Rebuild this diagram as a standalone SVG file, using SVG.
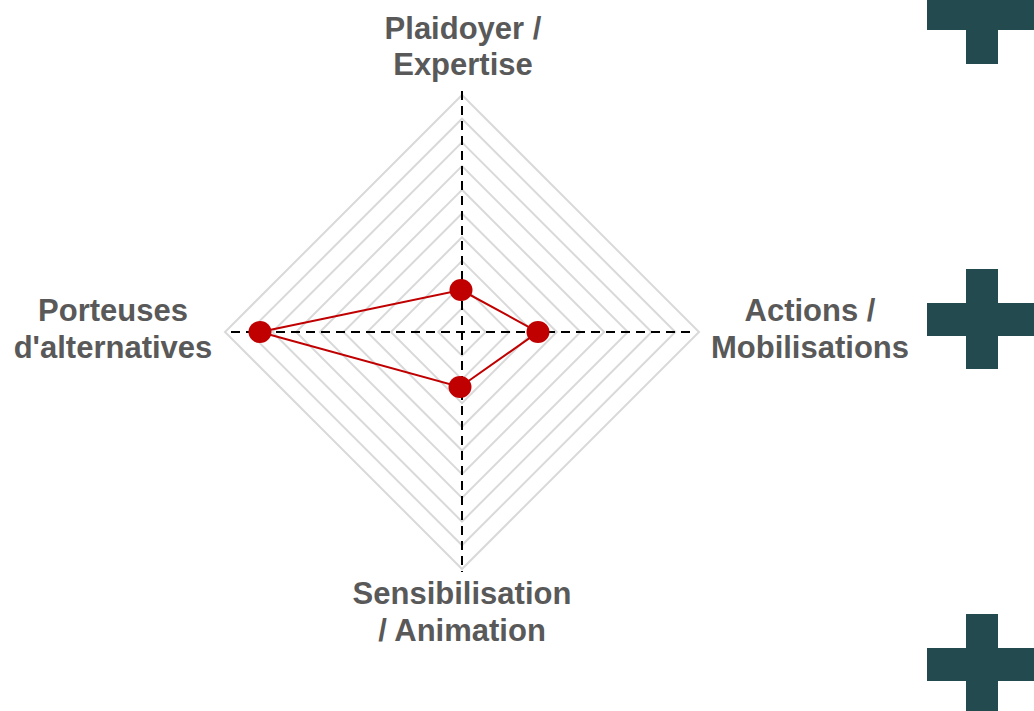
<svg xmlns="http://www.w3.org/2000/svg" width="1034" height="711" viewBox="0 0 1034 711">
<style>
.grid{fill:none;stroke:#d9d9d9;stroke-width:2}
.axis{stroke:#000;stroke-width:2;stroke-dasharray:9 6;fill:none}
.series{fill:none;stroke:#c00000;stroke-width:2}
.dot{fill:#c00000}
.lbl{font-family:"Liberation Sans",Arial,sans-serif;font-weight:bold;font-size:31px;fill:#595959;text-anchor:middle}
.cross{fill:#234b4f}
</style>
<rect width="1034" height="711" fill="#fff"/>
<g id="grid">
<polygon class="grid" points="462,95 699,332 462,569 225,332"/>
<polygon class="grid" points="462,118.7 675.3,332 462,545.3 248.7,332"/>
<polygon class="grid" points="462,142.4 651.6,332 462,521.6 272.4,332"/>
<polygon class="grid" points="462,166.1 627.9,332 462,497.9 296.1,332"/>
<polygon class="grid" points="462,189.8 604.2,332 462,474.2 319.8,332"/>
<polygon class="grid" points="462,213.5 580.5,332 462,450.5 343.5,332"/>
<polygon class="grid" points="462,237.2 556.8,332 462,426.8 367.2,332"/>
<polygon class="grid" points="462,260.9 533.1,332 462,403.1 390.9,332"/>
<polygon class="grid" points="462,284.6 509.4,332 462,379.4 414.6,332"/>
<polygon class="grid" points="462,308.3 485.7,332 462,355.7 438.3,332"/>
</g>
<g id="connectors">
<line class="axis" x1="462" y1="91" x2="462" y2="572"/>
<line class="axis" x1="231" y1="332" x2="696" y2="332"/>
<polygon class="series" points="461,290 538,332 460,387 260,332"/>
</g>
<g id="point-plaidoyer"><ellipse class="dot" cx="461" cy="290" rx="11.5" ry="11"/></g>
<g id="point-actions"><ellipse class="dot" cx="538" cy="332" rx="11.5" ry="11"/></g>
<g id="point-sensibilisation"><ellipse class="dot" cx="460" cy="387" rx="11.5" ry="11"/></g>
<g id="point-porteuses"><ellipse class="dot" cx="260" cy="332" rx="11.5" ry="11"/></g>
<g id="label-plaidoyer"><text class="lbl" x="463" y="39">Plaidoyer /</text><text class="lbl" x="463" y="75">Expertise</text></g>
<g id="label-porteuses"><text class="lbl" x="113" y="321">Porteuses</text><text class="lbl" x="113" y="358">d'alternatives</text></g>
<g id="label-actions"><text class="lbl" x="810" y="321">Actions /</text><text class="lbl" x="810" y="358">Mobilisations</text></g>
<g id="label-sensibilisation"><text class="lbl" x="462" y="604">Sensibilisation</text><text class="lbl" x="462" y="641">/ Animation</text></g>
<g id="cross-top"><rect class="cross" x="966" y="-36" width="32" height="100"/><rect class="cross" x="927" y="-3" width="110" height="33"/></g>
<g id="cross-middle"><rect class="cross" x="966" y="269" width="32" height="100"/><rect class="cross" x="927" y="303" width="110" height="33"/></g>
<g id="cross-bottom"><rect class="cross" x="966" y="614" width="32" height="100"/><rect class="cross" x="927" y="648" width="110" height="33"/></g>
</svg>
